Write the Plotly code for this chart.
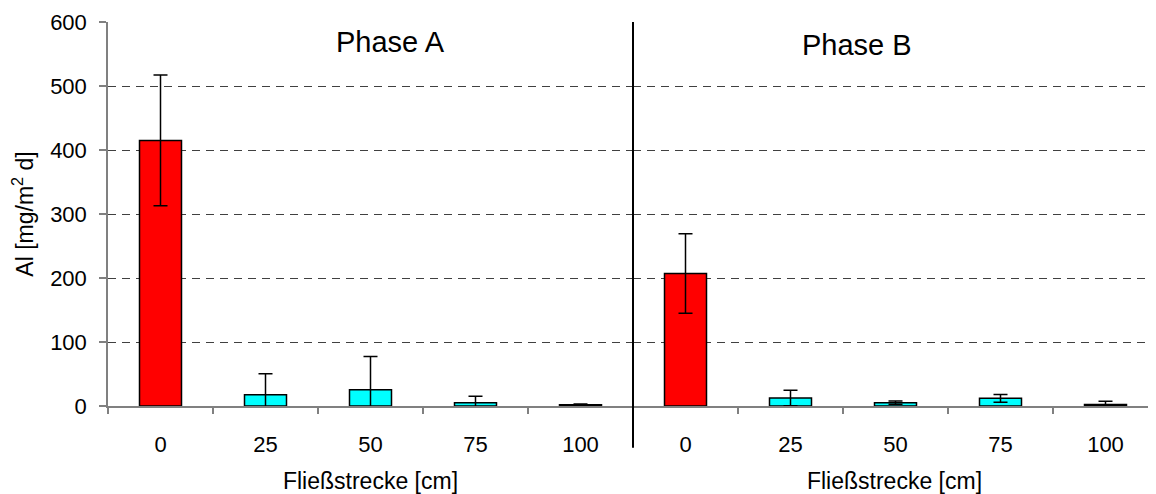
import plotly.graph_objects as go

# Fließstrecke categories (same for both phases)
strecke = ["0", "25", "50", "75", "100"]

# Al deposition [mg/m² d] and standard deviation
phase_a_vals = [415, 17.7, 25.4, 5.2, 2.0]
phase_a_err = [102, 32.5, 52, 10, 1]
phase_b_vals = [207, 12.5, 5.2, 12.0, 2.5]
phase_b_err = [62, 12, 2.6, 6, 5]

bar_colors = ["#ff0000", "#00ffff", "#00ffff", "#00ffff", "#00ffff"]

FONT = "Arial, Liberation Sans, sans-serif"
# page body has an 8px margin, so the figure is a bit smaller than the window
W, H = 1148, 486
L, R, T, B = 100, 0, 14, 88
split_px = 625  # boundary between phase A and phase B
plot_w = W - L - R
plot_h = H - T - B
split = (split_px - L) / plot_w
cat_w = (split_px - L) / 5
range_b_end = (W - R - split_px) / cat_w - 0.5

fig = go.Figure()

err_style = dict(type="data", visible=True, color="black", thickness=1.5, width=7)

fig.add_trace(go.Bar(
    x=strecke, y=phase_a_vals,
    error_y=dict(array=phase_a_err, **err_style),
    marker=dict(color=bar_colors, line=dict(color="black", width=1.5)),
    width=0.4, xaxis="x", yaxis="y", showlegend=False,
))
fig.add_trace(go.Bar(
    x=strecke, y=phase_b_vals,
    error_y=dict(array=phase_b_err, **err_style),
    marker=dict(color=bar_colors, line=dict(color="black", width=1.5)),
    width=0.4, xaxis="x2", yaxis="y", showlegend=False,
))

xcommon = dict(
    type="category", tickson="boundaries", ticks="outside", ticklen=6,
    tickcolor="#808080", tickwidth=1.5, showline=True, linecolor="#808080",
    linewidth=1.5, showgrid=False, ticklabelstandoff=18, automargin=False,
    tickfont=dict(family=FONT, size=22, color="black"),
    title=dict(text="Fließstrecke [cm]", font=dict(family=FONT, size=23, color="black"), standoff=24),
)

fig.update_layout(
    width=W, height=H,
    margin=dict(l=L, r=R, t=T, b=B),
    paper_bgcolor="white", plot_bgcolor="white",
    xaxis=dict(domain=[0, split], range=[-0.5, 4.5], anchor="y", **xcommon),
    xaxis2=dict(domain=[split, 1], range=[-0.5, range_b_end], anchor="y", **xcommon),
    yaxis=dict(
        range=[0, 600], dtick=100, ticks="outside", ticklen=7,
        tickcolor="#808080", tickwidth=1.5, showline=True, linecolor="#808080",
        linewidth=1.5, showgrid=True, gridcolor="#404040", gridwidth=1,
        griddash="8px,6px", zeroline=False, ticklabelstandoff=8, automargin=False,
        tickfont=dict(family=FONT, size=22, color="black"),
        title=dict(text="Al [mg/m<sup>2</sup> d]", font=dict(family=FONT, size=23, color="black"), standoff=14),
    ),
    shapes=[dict(
        type="line", xref="paper", yref="paper",
        x0=split, x1=split, y0=-0.109, y1=1,
        line=dict(color="black", width=2),
    )],
    annotations=[
        dict(text="Phase A", xref="paper", yref="paper", x=(382 - L) / plot_w,
             y=(H - B - 34) / plot_h, xanchor="center", yanchor="middle",
             showarrow=False, font=dict(family=FONT, size=29, color="black")),
        dict(text="Phase B", xref="paper", yref="paper", x=(849 - L) / plot_w,
             y=(H - B - 37) / plot_h, xanchor="center", yanchor="middle",
             showarrow=False, font=dict(family=FONT, size=29, color="black")),
    ],
)

fig.write_html("out.html")
